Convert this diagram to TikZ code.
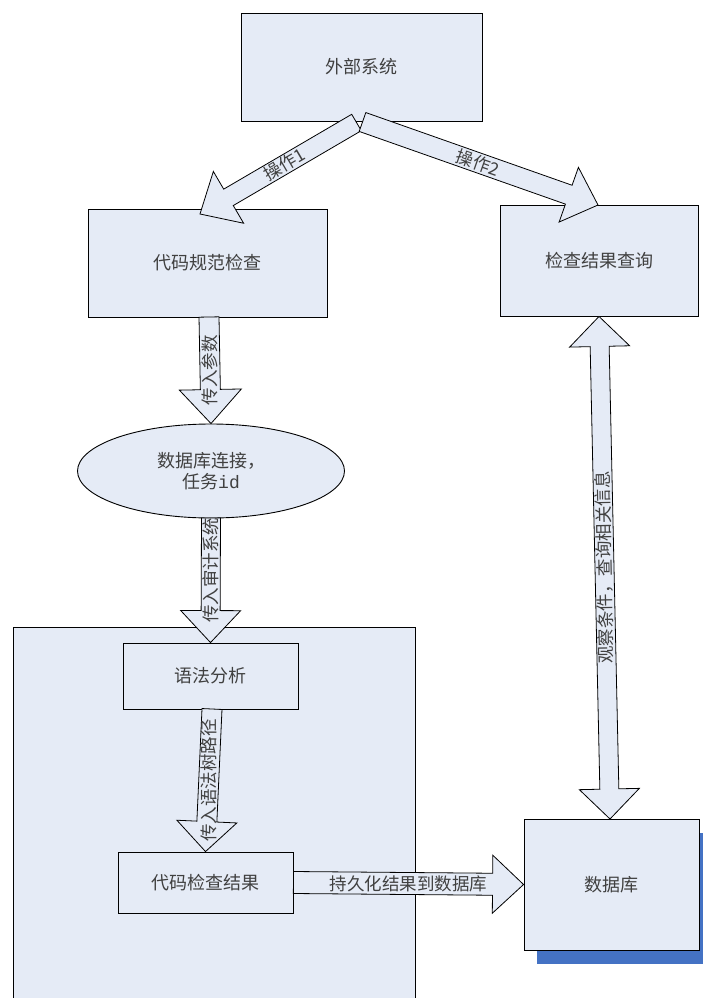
\documentclass[tikz,border=0pt]{standalone}
\usepackage{fontspec}
\setmainfont{Noto Sans CJK SC}
\setmonofont{Liberation Mono}
\usetikzlibrary{calc,shapes.geometric}
\definecolor{boxfill}{RGB}{229,235,246}
\definecolor{txt}{RGB}{64,64,64}
\definecolor{shadowblue}{RGB}{68,114,196}
\tikzset{
  boxnode/.style={draw=black, line width=0.9pt, fill=boxfill, text=txt,
    inner sep=0pt, font=\fontsize{18}{21}\selectfont, align=center},
  fatshape/.style={draw=black, line width=0.8pt, fill=boxfill},
  arrlabel/.style={text=txt, inner sep=0pt, font=\fontsize{17.5}{19}\selectfont},
}
% #1 tail, #2 tip, #3 shaft half width, #4 head half width, #5 head length
\newcommand\fatarrow[5]{%
  \coordinate (fah) at ($(#2)!#5!(#1)$);
  \filldraw[fatshape] ($(#1)!#3!90:(#2)$) -- ($(fah)!#3!90:(#2)$) --
    ($(fah)!#4!90:(#2)$) -- (#2) -- ($(fah)!#4!-90:(#2)$) --
    ($(fah)!#3!-90:(#2)$) -- ($(#1)!#3!-90:(#2)$) -- cycle;
}
\newcommand\dblfatarrow[5]{%
  \coordinate (dha) at ($(#2)!#5!(#1)$);
  \coordinate (dhb) at ($(#1)!#5!(#2)$);
  \filldraw[fatshape] (#1) -- ($(dhb)!#4!90:(#2)$) -- ($(dhb)!#3!90:(#2)$) --
    ($(dha)!#3!90:(#2)$) -- ($(dha)!#4!90:(#2)$) -- (#2) --
    ($(dha)!#4!-90:(#2)$) -- ($(dha)!#3!-90:(#2)$) --
    ($(dhb)!#3!-90:(#2)$) -- ($(dhb)!#4!-90:(#2)$) -- cycle;
}
\begin{document}
\begin{tikzpicture}[x=1pt, y=-1pt]
\useasboundingbox (0,0) rectangle (703,998);
\fill[white] (0,0) rectangle (703,998);

% container
\fill[boxfill] (13,627) rectangle (415,998);
\draw[line width=0.9pt] (13,998) -- (13,627) -- (415,627) -- (415,998);

% boxes
\node[boxnode, minimum width=241pt, minimum height=108pt] (ext) at (361.5,67) {外部系统};
\node[boxnode, minimum width=239pt, minimum height=108pt] (check) at (207.5,263) {代码规范检查};
\node[boxnode, minimum width=198pt, minimum height=111pt] (query) at (599,260.5) {检查结果查询};
\node[boxnode, ellipse, minimum width=267pt, minimum height=94pt] (ell) at (211,471)
  {数据库连接，\\任务{\ttfamily id}};
\node[boxnode, minimum width=175pt, minimum height=66pt] (syn) at (210.5,676) {语法分析};
\node[boxnode, minimum width=175pt, minimum height=61pt] (res) at (205.5,882.5) {代码检查结果};
\fill[shadowblue] (537,833) rectangle (703,964);
\node[boxnode, minimum width=175pt, minimum height=131pt] (db) at (611.5,884.5) {数据库};

% connector end points
\coordinate (a1t) at (356.5,122.5);
\coordinate (a1h) at (200,214);
\coordinate (a2t) at (362.5,122);
\coordinate (a2h) at (598,205);
\coordinate (a3t) at (209,317);
\coordinate (a4t) at (211,518);
\coordinate (a5t) at (212,709);
\coordinate (dbt) at (610,819);

% arrows
\fatarrow{a1t}{a1h}{9.5pt}{30pt}{33pt}
\path (a1t) -- (a1h) node[arrlabel, pos=0.46, sloped] {操作1};
\fatarrow{a2t}{a2h}{10pt}{29pt}{31pt}
\path (a2t) -- (a2h) node[arrlabel, pos=0.49, sloped] {操作2};

\fatarrow{a3t}{ell.north}{10pt}{31pt}{34pt}
\path (a3t) -- (ell.north) node[arrlabel, midway, rotate=90] {传入参数};

\fatarrow{a4t}{syn.north}{9.5pt}{30pt}{32pt}
\path (a4t) -- (syn.north) node[arrlabel, pos=0.42, rotate=90] {传入审计系统};

\fatarrow{a5t}{res.north}{10pt}{30pt}{30pt}
\path (a5t) -- (res.north) node[arrlabel, midway, rotate=90] {传入语法树路径};

\dblfatarrow{query.south}{dbt}{9.5pt}{30pt}{30pt}
\path (query.south) -- (dbt) node[arrlabel, midway, rotate=91] {观察条件，查询相关信息};

\fatarrow{res.east}{db.west}{11pt}{29pt}{31pt}
\path (res.east) -- (db.west) node[arrlabel, midway] {持久化结果到数据库};
\end{tikzpicture}
\end{document}
